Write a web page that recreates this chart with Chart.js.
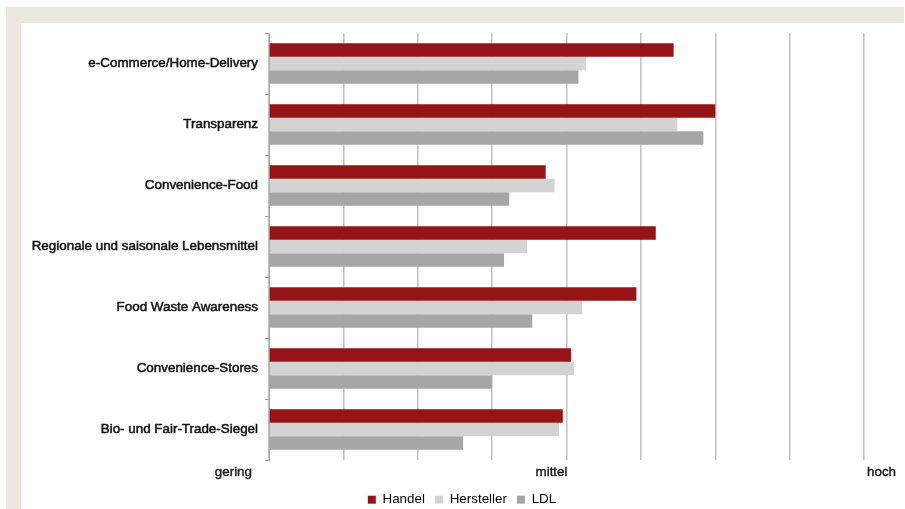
<!DOCTYPE html>
<html>
<head>
<meta charset="utf-8">
<script src="https://cdn.jsdelivr.net/npm/chart.js@4/dist/chart.umd.min.js"></script>
<style>
  html, body { margin: 0; padding: 0; background: #ffffff; }
  #wrap { position: relative; width: 905px; height: 509px; overflow: hidden; background: #ffffff; }
  .band { position: absolute; background: #EBE8DF; }
  #c { position: absolute; left: 0; top: 0; }
</style>
</head>
<body>
<div id="wrap">
  <div class="band" style="left:6px;top:7px;width:898px;height:16px;"></div>
  <div class="band" style="left:6px;top:7px;width:15px;height:502px;"></div>
  <canvas id="c" width="905" height="509"></canvas>
</div>
<script>
const categories = [
  'e-Commerce/Home-Delivery',
  'Transparenz',
  'Convenience-Food',
  'Regionale und saisonale Lebensmittel',
  'Food Waste Awareness',
  'Convenience-Stores',
  'Bio- und Fair-Trade-Siegel'
];
const handel     = [5.44, 6.00, 3.72, 5.20, 4.94, 4.06, 3.95];
const hersteller = [4.26, 5.49, 3.84, 3.47, 4.21, 4.10, 3.90];
const ldl        = [4.16, 5.84, 3.23, 3.16, 3.54, 3.00, 2.61];
const seriesNames = ['Handel', 'Hersteller', 'LDL'];
const scaleLabels = [
  { value: 0, text: 'gering' },
  { value: 4, text: 'mittel' },
  { value: 8, text: 'hoch' }
];

const FONT = "'Liberation Sans', Arial, sans-serif";

const xLabelPlugin = {
  id: 'xLabels',
  beforeDraw(chart) {
    // shift legend box so it is centred like the reference
    if (chart.legend) { chart.legend.left = 60; }
  },
  afterDraw(chart) {
    const ctx = chart.ctx;
    const xs = chart.scales.x;
    ctx.save();
    ctx.font = '13.4px ' + FONT;
    ctx.fillStyle = '#1a1a1a';
    ctx.strokeStyle = '#1a1a1a';
    ctx.lineWidth = 0.4;
    ctx.textBaseline = 'middle';
    const y = 472;
    scaleLabels.forEach((l, i) => {
      const px = xs.getPixelForValue(l.value);
      let tx;
      if (i === 0) { ctx.textAlign = 'right'; tx = px - 17; }
      else if (i === scaleLabels.length - 1) { ctx.textAlign = 'left'; tx = px + 3; }
      else { ctx.textAlign = 'right'; tx = px + 1; }
      ctx.fillText(l.text, tx, y);
      ctx.strokeText(l.text, tx, y);
    });
    ctx.restore();
  }
};

new Chart(document.getElementById('c'), {
  type: 'bar',
  data: {
    labels: categories,
    datasets: [
      { label: seriesNames[0], data: handel, backgroundColor: '#961418' },
      { label: seriesNames[1], data: hersteller, backgroundColor: '#D3D3D3' },
      { label: seriesNames[2], data: ldl, backgroundColor: '#A6A6A6' }
    ]
  },
  options: {
    indexAxis: 'y',
    responsive: false,
    animation: false,
    devicePixelRatio: 1,
    datasets: { bar: { categoryPercentage: 0.66, barPercentage: 1.0, borderWidth: 0 } },
    layout: { padding: { left: 20, right: 41, top: 33, bottom: 0 } },
    scales: {
      x: {
        type: 'linear',
        min: 0, max: 8,
        ticks: { display: false, stepSize: 1 },
        grid: { color: '#C0C0C0', lineWidth: 1.5, drawTicks: false },
        border: { display: false },
        afterFit(s) { s.height = 23; }
      },
      y: {
        ticks: {
          color: '#111111', font: { family: FONT, size: 13.4 }, padding: 7,
          textStrokeColor: '#111111', textStrokeWidth: 0.5
        },
        grid: { drawOnChartArea: false, drawTicks: true, tickLength: 4, color: '#A6A6A6', offset: true },
        border: { display: true, color: '#A6A6A6', width: 1 },
        afterFit(s) { s.width = 249; }
      }
    },
    plugins: {
      legend: {
        position: 'bottom',
        maxHeight: 26,
        labels: {
          boxWidth: 8, boxHeight: 8, padding: 10,
          color: '#000000',
          font: { family: FONT, size: 13.4 }
        }
      },
      tooltip: { enabled: false }
    }
  },
  plugins: [xLabelPlugin]
});
</script>
</body>
</html>
